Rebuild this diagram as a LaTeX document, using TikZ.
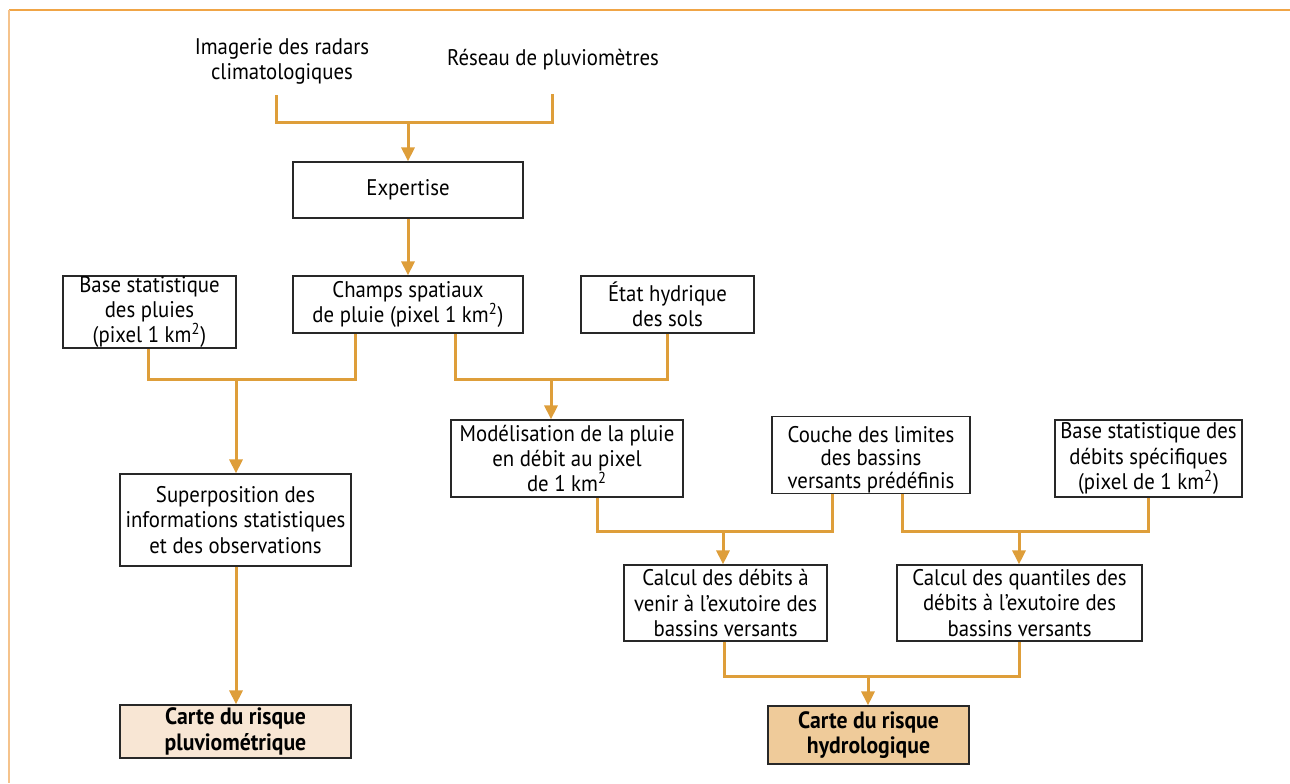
\documentclass[tikz,border=0pt]{standalone}
\usepackage{fontspec}
\setmainfont{PT Sans}[FakeStretch=0.92]
\usetikzlibrary{arrows.meta,calc}
\definecolor{org}{RGB}{222,158,58}
\definecolor{frameorg}{RGB}{240,165,70}
\definecolor{frameleft}{RGB}{245,195,140}
\definecolor{pluvfill}{RGB}{248,230,212}
\definecolor{hydrofill}{RGB}{239,203,154}
\definecolor{boxline}{RGB}{40,40,40}
\tikzset{
  box/.style={draw=boxline, line width=0.6pt, fill=white, align=center, inner sep=0pt,
    font=\fontsize{11.3}{12.6}\selectfont},
  plain/.style={align=center, inner sep=0pt, font=\fontsize{11.3}{12.6}\selectfont},
  finalbox/.style={box, font=\fontsize{11.8}{12.8}\selectfont\bfseries},
  conn/.style={draw=org, line width=1.5pt},
  arr/.style={conn, -{Triangle[length=7pt,width=6.5pt]}}
}
\begin{document}
\begin{tikzpicture}[x=0.5pt,y=-0.5pt]
\useasboundingbox (0,0) rectangle (1290,783);
% frame
\draw[frameorg, line width=1pt] (9,10) -- (1290,10);
\draw[frameleft, line width=1pt] (9,10) -- (9,783);

% top sources
\node[plain, minimum height=34pt] (img) at (282,61) {Imagerie des radars\\climatologiques};
\node[plain, minimum height=34pt] (res) at (553,60) {Réseau de pluviomètres};
\node[box, minimum width=115pt, minimum height=28pt] (exp) at (408,190) {Expertise};

\node[box, minimum width=86.5pt, minimum height=36pt] (bsp) at (149.5,312) {Base statistique\\des pluies\\(pixel 1 km\textsuperscript{2})};
\node[box, minimum width=115pt, minimum height=28.5pt] (champs) at (408,304.5) {Champs spatiaux\\de pluie (pixel 1 km\textsuperscript{2})};
\node[box, minimum width=86.5pt, minimum height=28.5pt] (etat) at (667.5,304.5) {État hydrique\\des sols};

\node[box, minimum width=115.5pt, minimum height=46pt] (sup) at (235.5,520) {Superposition des\\informations statistiques\\et des observations};
\node[finalbox, fill=pluvfill, minimum width=115.5pt, minimum height=26.5pt] (cpluv) at (235.5,731.5) {Carte du risque\\pluviométrique};

\node[box, minimum width=116pt, minimum height=38.5pt] (mod) at (567,458.5) {Modélisation de la pluie\\en débit au pixel\\de 1 km\textsuperscript{2}};
\node[box, minimum width=99pt, minimum height=35pt, font=\fontsize{11.3}{11.6}\selectfont] (couche) at (871,455) {\raisebox{0pt}[13pt][0pt]{}Couche des limites\\des bassins\\versants prédéfinis};
\node[box, minimum width=93.5pt, minimum height=38.5pt] (bsd) at (1148.5,458.5) {Base statistique des\\débits spécifiques\\(pixel de 1 km\textsuperscript{2})};

\node[box, minimum width=101.5pt, minimum height=38pt] (calc1) at (725.5,603) {Calcul des débits à\\venir à l’exutoire des\\bassins versants};
\node[box, minimum width=122.5pt, minimum height=38pt] (calc2) at (1019.5,603) {Calcul des quantiles des\\débits à l’exutoire des\\bassins versants};
\node[finalbox, fill=hydrofill, minimum width=100.5pt, minimum height=29pt] (chydro) at (868.5,735) {Carte du risque\\hydrologique};

% junctions
\coordinate (ja) at (408,122);
\coordinate (jal) at (276,122);
\coordinate (jar) at (552,122);
\coordinate (jb) at (236,379);
\coordinate (jbl) at (148,379);
\coordinate (jbr) at (355,379);
\coordinate (jc) at (551,379);
\coordinate (jcl) at (455,379);
\coordinate (jcr) at (667,379);
\coordinate (jd) at (723,531);
\coordinate (jdl) at (597,531);
\coordinate (jdr) at (832,531);
\coordinate (je) at (1019,531);
\coordinate (jel) at (902,531);
\coordinate (jer) at (1148,531);
\coordinate (jf) at (868,676);
\coordinate (jfl) at (724,676);
\coordinate (jfr) at (1019,676);

% connectors
\draw[conn] (img.south -| jal) -- (jal) -- (jar) -- (res.south -| jar);
\draw[arr] (ja) -- (exp.north);
\draw[arr] (exp.south) -- (champs.north);

\draw[conn] (bsp.south -| jbl) -- (jbl) -- (jbr) -- (champs.south -| jbr);
\draw[arr] (jb) -- (sup.north -| jb);
\draw[arr] (sup.south -| jb) -- (cpluv.north -| jb);

\draw[conn] (champs.south -| jcl) -- (jcl) -- (jcr) -- (etat.south -| jcr);
\draw[arr] (jc) -- (mod.north -| jc);

\draw[conn] (mod.south -| jdl) -- (jdl) -- (jdr) -- (couche.south -| jdr);
\draw[arr] (jd) -- (calc1.north -| jd);

\draw[conn] (couche.south -| jel) -- (jel) -- (jer) -- (bsd.south -| jer);
\draw[arr] (je) -- (calc2.north -| je);

\draw[conn] (calc1.south -| jfl) -- (jfl) -- (jfr) -- (calc2.south -| jfr);
\draw[arr] (jf) -- (chydro.north -| jf);
\end{tikzpicture}
\end{document}
